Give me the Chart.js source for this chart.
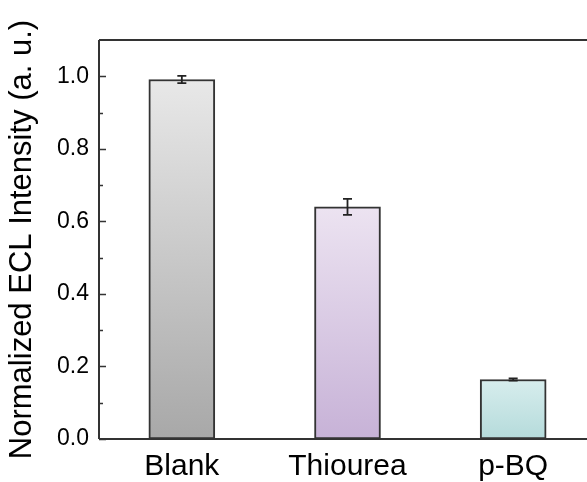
<!DOCTYPE html>
<html>
<head>
<meta charset="utf-8">
<script src="https://cdn.jsdelivr.net/npm/chart.js@4/dist/chart.umd.min.js"></script>
<style>
  html, body { margin: 0; padding: 0; background: #fff; overflow: hidden; }
  #wrap { width: 596px; height: 482px; }
</style>
</head>
<body>
<div id="wrap"><canvas id="c"></canvas></div>
<script>
// data
const categories = ["Blank", "Thiourea", "p-BQ"];
const values = [0.991, 0.640, 0.164];
const errors = [0.010, 0.022, 0.003];
const topColors = ["#e8e8e8", "#ece3f1", "#d7eded"];
const bottomColors = ["#a8a8a8", "#c7b2d7", "#b5dbdb"];
const majorTicks = [0, 0.2, 0.4, 0.6, 0.8, 1.0];
const minorTicks = [0.1, 0.3, 0.5, 0.7, 0.9];

const axisColor = "#333333";
const fontFamily = "'Liberation Sans', Arial, sans-serif";

// gradient per bar, from its top to the zero line
function barFill(ctx) {
  const chart = ctx.chart;
  const y = chart.scales.y;
  if (!chart.chartArea || !y) return topColors[ctx.dataIndex];
  const top = y.getPixelForValue(values[ctx.dataIndex]);
  const bot = y.getPixelForValue(0);
  const g = chart.ctx.createLinearGradient(0, top, 0, bot);
  g.addColorStop(0, topColors[ctx.dataIndex]);
  g.addColorStop(1, bottomColors[ctx.dataIndex]);
  return g;
}

// axes frame, inward ticks and error bars
const extras = {
  id: "extras",
  afterDatasetsDraw(chart) {
    const c = chart.ctx;
    const a = chart.chartArea;
    const y = chart.scales.y;
    c.save();
    c.strokeStyle = axisColor;
    c.lineWidth = 2;
    c.beginPath();
    c.moveTo(a.left, a.top); c.lineTo(a.left, a.bottom);
    c.moveTo(a.left, a.bottom); c.lineTo(a.right, a.bottom);
    c.moveTo(a.left, a.top); c.lineTo(a.right, a.top);
    c.stroke();

    c.lineWidth = 1.5;
    c.beginPath();
    majorTicks.forEach(v => {
      const py = Math.round(y.getPixelForValue(v)) + 0.5;
      c.moveTo(a.left, py); c.lineTo(a.left + 7, py);
    });
    minorTicks.forEach(v => {
      const py = Math.round(y.getPixelForValue(v)) + 0.5;
      c.moveTo(a.left, py); c.lineTo(a.left + 4, py);
    });
    c.stroke();

    // error bars
    const meta = chart.getDatasetMeta(0);
    c.strokeStyle = "#222222";
    c.lineWidth = 1.8;
    meta.data.forEach((bar, i) => {
      const hi = y.getPixelForValue(values[i] + errors[i]);
      const lo = y.getPixelForValue(values[i] - errors[i]);
      const x = bar.x;
      c.beginPath();
      c.moveTo(x, hi); c.lineTo(x, lo);
      c.moveTo(x - 4.5, hi); c.lineTo(x + 4.5, hi);
      c.moveTo(x - 4.5, lo); c.lineTo(x + 4.5, lo);
      c.stroke();
    });
    c.restore();
  }
};

new Chart(document.getElementById("c"), {
  type: "bar",
  data: {
    labels: categories,
    datasets: [{
      data: values,
      backgroundColor: barFill,
      borderColor: "#333333",
      borderWidth: 2,
      borderSkipped: false,
      barThickness: 66
    }]
  },
  options: {
    responsive: true,
    maintainAspectRatio: false,
    animation: false,
    layout: { padding: { top: 40, right: 0, left: 0, bottom: 0 } },
    plugins: { legend: { display: false }, tooltip: { enabled: false } },
    scales: {
      x: {
        grid: { display: false, drawTicks: false },
        border: { display: false },
        ticks: {
          color: "#000",
          padding: 10,
          font: { family: fontFamily, size: 30 }
        },
        afterFit(scale) { scale.height = 43; }
      },
      y: {
        min: 0,
        max: 1.1,
        afterBuildTicks(scale) {
          scale.ticks = majorTicks.map(v => ({ value: v }));
        },
        grid: { display: false, drawTicks: false },
        border: { display: false },
        ticks: {
          color: "#000",
          padding: 10,
          font: { family: fontFamily, size: 23 },
          callback: v => v.toFixed(1)
        },
        title: {
          display: true,
          text: "Normalized ECL Intensity (a. u.)",
          color: "#000",
          padding: { top: 4, bottom: 0 },
          font: { family: fontFamily, size: 31 }
        },
        afterFit(scale) { scale.width = 99; }
      }
    }
  },
  plugins: [extras]
});
</script>
</body>
</html>
